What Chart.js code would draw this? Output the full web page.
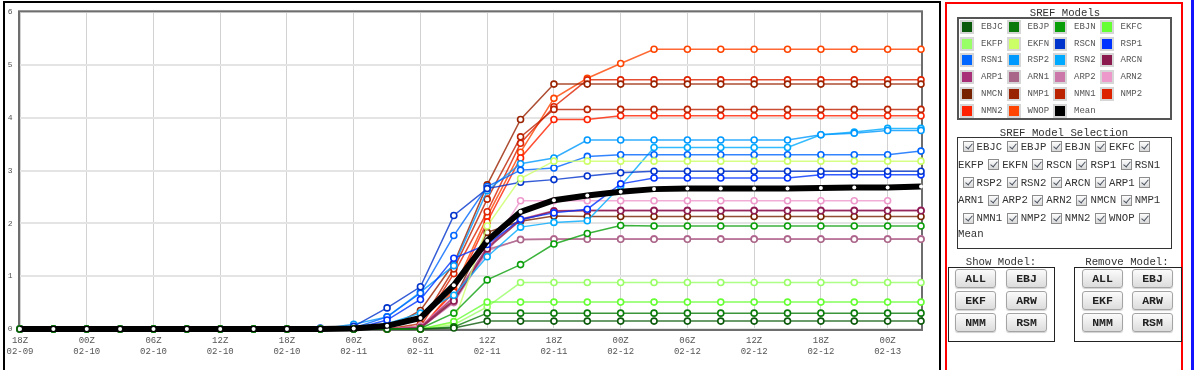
<!DOCTYPE html>
<html>
<head>
<meta charset="utf-8">
<script src="https://cdn.jsdelivr.net/npm/chart.js@4.4.1/dist/chart.umd.min.js"></script>
<style>
html, body { margin: 0; padding: 0; background: #fff; width: 1200px; height: 370px; overflow: hidden; }
body { position: relative; font-family: "Liberation Mono", monospace; }
#chartWrap { position: absolute; left: 0; top: 0; width: 940px; height: 370px; }
#chartFrame { position: absolute; left: 3px; top: 1px; width: 934px; height: 400px; border: 2px solid #000; }
#side { position: absolute; left: 945px; top: 2px; width: 234px; height: 400px; border: 2px solid #f00; }
#blueBar { position: absolute; left: 1191px; top: 0; width: 3px; height: 370px; background: #1414ff; }
.ttl { position: absolute; font-size: 10.7px; color: #333; line-height: 12px; text-align: center; white-space: nowrap; }
.box { position: absolute; box-sizing: border-box; }
.legItem { position: absolute; height: 14px; display: flex; align-items: center; white-space: nowrap; }
.sw { display: inline-block; width: 10px; height: 10px; border: 2px solid #d6d6d6; }
.swl { font-size: 9px; color: #555; margin-left: 7px; }
.selRow { position: absolute; height: 14px; display: flex; align-items: center; white-space: nowrap; }
.cb { display: inline-block; position: relative; box-sizing: border-box; width: 11px; height: 11px; border: 1px solid #8c8c8c;
      background: linear-gradient(#fdfdfd, #d9d9d9); margin-right: 3px; }
.cb::after { content: ""; position: absolute; left: 3px; top: 0px; width: 3px; height: 6px;
      border: solid #4a5260; border-width: 0 1.5px 1.5px 0; transform: rotate(40deg); }
.cbt { font-size: 10.7px; color: #333; margin-right: 4.5px; }
.btn { position: absolute; width: 41px; height: 19px; box-sizing: border-box; border: 1px solid #a4a4a4; border-radius: 3px;
       background: linear-gradient(#fbfbfb, #dcdcdc); font-weight: bold; font-size: 11.5px; color: #222;
       text-align: center; line-height: 17px; box-shadow: 0 1px 1px rgba(0,0,0,0.18); }
</style>
</head>
<body>
<div id="chartWrap"><canvas id="sref" width="940" height="370"></canvas></div>
<div id="chartFrame"></div>
<div id="side"></div>
<div id="blueBar"></div>

<div class="ttl" style="left:985px; top:6.5px; width:160px;">SREF Models</div>
<div class="box" style="left:957px; top:16.5px; width:215px; height:103px; border:2px solid #555;"></div>

<div class="ttl" style="left:984px; top:126.5px; width:160px;">SREF Model Selection</div>
<div class="box" style="left:957px; top:137px; width:215px; height:112px; border:1.5px solid #333;"></div>

<div class="ttl" style="left:951px; top:256px; width:100px;">Show Model:</div>
<div class="box" style="left:948px; top:266.5px; width:106.5px; height:75.5px; border:1.5px solid #222;"></div>
<div class="ttl" style="left:1077px; top:256px; width:100px;">Remove Model:</div>
<div class="box" style="left:1074px; top:266.5px; width:107.5px; height:75.5px; border:1.5px solid #222;"></div>

<script>
// forecast times, every 3 h
var times = [
  "18Z 02-09", "21Z 02-09", "00Z 02-10", "03Z 02-10", "06Z 02-10", "09Z 02-10", "12Z 02-10",
  "15Z 02-10", "18Z 02-10", "21Z 02-10", "00Z 02-11", "03Z 02-11", "06Z 02-11", "09Z 02-11",
  "12Z 02-11", "15Z 02-11", "18Z 02-11", "21Z 02-11", "00Z 02-12", "03Z 02-12", "06Z 02-12",
  "09Z 02-12", "12Z 02-12", "15Z 02-12", "18Z 02-12", "21Z 02-12", "00Z 02-13", "03Z 02-13"
];
var yTicks = [0, 1, 2, 3, 4, 5, 6];

var modelNames = ["EBJC", "EBJP", "EBJN", "EKFC", "EKFP", "EKFN", "RSCN", "RSP1", "RSN1", "RSP2", "RSN2",
  "ARCN", "ARP1", "ARN1", "ARP2", "ARN2", "NMCN", "NMP1", "NMN1", "NMP2", "NMN2", "WNOP"];
var modelColors = ["#0b5a0b", "#0a7a0a", "#0a9f0a", "#66ff33", "#99ff66", "#ccff66", "#0033cc", "#0033ff",
  "#0066ff", "#0099ff", "#00aaff", "#8b1a4e", "#a83078", "#aa6688", "#cc77aa", "#ee99cc",
  "#772200", "#992200", "#bb2200", "#dd2200", "#ff2200", "#ff4400"];

var ebjc = [0,0,0,0,0,0,0,0,0,0, 0,0,0,0.02,0.15,0.15,0.15,0.15,0.15,0.15,0.15,0.15,0.15,0.15,0.15,0.15,0.15,0.15];
var ebjp = [0,0,0,0,0,0,0,0,0,0, 0,0,0,0.04,0.30,0.30,0.30,0.30,0.30,0.30,0.30,0.30,0.30,0.30,0.30,0.30,0.30,0.30];
var ebjn = [0,0,0,0,0,0,0,0,0,0, 0,0,0.01,0.30,0.93,1.22,1.61,1.81,1.96,1.95,1.95,1.95,1.95,1.95,1.95,1.95,1.95,1.95];
var ekfc = [0,0,0,0,0,0,0,0,0,0, 0,0,0,0.14,0.51,0.51,0.51,0.51,0.51,0.51,0.51,0.51,0.51,0.51,0.51,0.51,0.51,0.51];
var ekfp = [0,0,0,0,0,0,0,0,0,0, 0,0,0,0.08,0.42,0.88,0.88,0.88,0.88,0.88,0.88,0.88,0.88,0.88,0.88,0.88,0.88,0.88];
var ekfn = [0,0,0,0,0,0,0,0,0,0, 0,0,0,0.12,1.95,2.85,3.18,3.18,3.18,3.18,3.18,3.18,3.18,3.18,3.18,3.18,3.18,3.18];
var rscn = [0,0,0,0,0,0,0,0,0,0.02, 0.05,0.40,0.80,2.15,2.66,2.78,2.83,2.90,2.96,2.99,2.99,2.99,2.99,2.99,2.99,2.99,2.99,2.99];
var rsp1 = [0,0,0,0,0,0,0,0,0,0, 0,0.17,0.56,1.34,1.60,2.08,2.20,2.27,2.75,2.86,2.86,2.86,2.86,2.86,2.92,2.92,2.92,2.92];
var rsn1 = [0,0,0,0,0,0,0,0,0,0, 0.02,0.23,0.68,1.77,2.70,3.01,3.05,3.27,3.30,3.30,3.30,3.30,3.30,3.30,3.30,3.30,3.30,3.37];
var rsp2 = [0,0,0,0,0,0,0,0,0,0, 0.09,0.23,0.70,1.20,2.62,3.13,3.24,3.58,3.58,3.58,3.58,3.58,3.58,3.58,3.68,3.71,3.76,3.76];
var rsn2 = [0,0,0,0,0,0,0,0,0,0, 0,0.10,0.30,0.64,1.37,1.93,2.02,2.05,2.71,3.44,3.44,3.44,3.44,3.44,3.68,3.73,3.80,3.80];
var arcn = [0,0,0,0,0,0,0,0,0,0, 0,0,0.02,0.53,1.52,2.06,2.23,2.24,2.24,2.24,2.24,2.24,2.24,2.24,2.24,2.24,2.24,2.24];
var arp1 = [0,0,0,0,0,0,0,0,0,0, 0,0,0.03,0.60,1.55,2.08,2.24,2.25,2.25,2.25,2.25,2.25,2.25,2.25,2.25,2.25,2.25,2.25];
var arn1 = [0,0,0,0,0,0,0,0,0,0, 0,0,0.01,0.53,1.51,1.69,1.70,1.70,1.70,1.70,1.70,1.70,1.70,1.70,1.70,1.70,1.70,1.70];
var arp2 = [0,0,0,0,0,0,0,0,0,0, 0,0,0.02,0.50,1.48,1.70,1.71,1.71,1.71,1.71,1.71,1.71,1.71,1.71,1.71,1.71,1.71,1.71];
var arn2 = [0,0,0,0,0,0,0,0,0,0, 0,0,0.05,0.62,1.43,2.43,2.43,2.43,2.43,2.43,2.43,2.43,2.43,2.43,2.43,2.43,2.43,null];
var nmcn = [0,0,0,0,0,0,0,0,0,0, 0,0,0.05,0.55,1.83,2.04,2.14,2.13,2.13,2.13,2.13,2.13,2.13,2.13,2.13,2.13,2.13,2.13];
var nmp1 = [0,0,0,0,0,0,0,0,0,0, 0,0,0.35,1.24,2.73,3.97,4.64,4.64,4.64,4.64,4.64,4.64,4.64,4.64,4.64,4.64,4.64,4.64];
var nmn1 = [0,0,0,0,0,0,0,0,0,0, 0,0,0.10,1.14,2.46,3.64,4.16,4.16,4.16,4.16,4.16,4.16,4.16,4.16,4.16,4.16,4.16,4.16];
var nmp2 = [0,0,0,0,0,0,0,0,0,0, 0,0,0.04,1.05,2.22,3.52,4.21,4.72,4.72,4.72,4.72,4.72,4.72,4.72,4.72,4.72,4.72,4.72];
var nmn2 = [0,0,0,0,0,0,0,0,0,0, 0,0,0.02,0.70,2.03,3.24,3.97,3.97,4.04,4.04,4.04,4.04,4.04,4.04,4.04,4.04,4.04,4.04];
var wnop = [0,0,0,0,0,0,0,0,0,0, 0,0,0,0.75,2.13,3.35,4.37,4.75,5.03,5.30,5.30,5.30,5.30,5.30,5.30,5.30,5.30,5.30];
var mean = [0,0,0,0,0,0,0,0,0,0, 0.01,0.06,0.21,0.83,1.67,2.22,2.44,2.53,2.60,2.65,2.66,2.66,2.66,2.66,2.67,2.68,2.68,2.70];

var modelValues = [ebjc, ebjp, ebjn, ekfc, ekfp, ekfn, rscn, rsp1, rsn1, rsp2, rsn2,
  arcn, arp1, arn1, arp2, arn2, nmcn, nmp1, nmn1, nmp2, nmn2, wnop];

var showButtons = ["ALL", "EBJ", "EKF", "ARW", "NMM", "RSM"];

function withAlpha(hex, a) {
  var n = parseInt(hex.slice(1), 16);
  return "rgba(" + (n >> 16) + "," + ((n >> 8) & 255) + "," + (n & 255) + "," + a + ")";
}

// --- side panel ---
var allNames = modelNames.concat(["Mean"]);
var allColors = modelColors.concat(["#000000"]);
allNames.forEach(function(name, i) {
  var item = document.createElement("div");
  item.className = "legItem";
  item.style.left = (960 + (i % 4) * 46.5) + "px";
  item.style.top = (20 + Math.floor(i / 4) * 16.7) + "px";
  item.innerHTML = '<span class="sw" style="background:' + allColors[i] + '"></span><span class="swl">' + name + '</span>';
  document.body.appendChild(item);
});

var tokens = [];
allNames.forEach(function(name) {
  tokens.push(null);
  tokens.push(name);
});
for (var r = 0; r * 9 < tokens.length; r++) {
  var rowTokens = tokens.slice(r * 9, r * 9 + 9);
  var row = document.createElement("div");
  row.className = "selRow";
  row.style.left = (rowTokens[0] === null ? 962.5 : 958) + "px";
  row.style.top = (r < 5 ? 139.7 + r * 17.9 : 226.5) + "px";
  rowTokens.forEach(function(t) {
    var s = document.createElement("span");
    if (t === null) {
      s.className = "cb";
    } else {
      s.className = "cbt";
      s.textContent = t;
    }
    row.appendChild(s);
  });
  document.body.appendChild(row);
}

[[955, 1006], [1082, 1132]].forEach(function(cols) {
  showButtons.forEach(function(label, i) {
    var b = document.createElement("div");
    b.className = "btn";
    b.style.left = cols[i % 2] + "px";
    b.style.top = (269 + Math.floor(i / 2) * 22.2) + "px";
    b.textContent = label;
    document.body.appendChild(b);
  });
});

// --- chart ---
var datasets = [{
  label: "Mean",
  data: mean,
  borderColor: "#000",
  borderWidth: 6,
  pointRadius: 2,
  pointBorderWidth: 0,
  pointBackgroundColor: "#fff",
  clip: false
}];
for (var i = 0; i < modelNames.length; i++) {
  datasets.push({
    label: modelNames[i],
    data: modelValues[i],
    borderColor: withAlpha(modelColors[i], 0.8),
    borderWidth: 1.5,
    pointRadius: 3,
    pointBorderWidth: 1.6,
    pointBorderColor: modelColors[i],
    pointBackgroundColor: "#fff",
    clip: false
  });
}

var plotFrame = {
  id: "plotFrame",
  beforeDatasetsDraw: function(chart) {
    var a = chart.chartArea;
    var ctx = chart.ctx;
    ctx.save();
    ctx.strokeStyle = "#6e6e6e";
    ctx.lineWidth = 2;
    ctx.strokeRect(a.left - 1, a.top - 1, a.right - a.left + 2, a.bottom - a.top + 2);
    ctx.restore();
  }
};

new Chart(document.getElementById("sref"), {
  type: "line",
  data: { labels: times, datasets: datasets },
  options: {
    responsive: false,
    animation: false,
    devicePixelRatio: 1,
    layout: { padding: { left: 6, right: 19, top: 10, bottom: 11 } },
    elements: { line: { tension: 0 } },
    plugins: { legend: { display: false }, tooltip: { enabled: false } },
    scales: {
      x: {
        type: "category",
        offset: false,
        afterFit: function(s) { s.height = 30; },
        border: { display: false },
        grid: {
          drawTicks: false,
          lineWidth: 1,
          color: function(c) { return c.index % 2 === 0 ? "#d2d2d2" : "rgba(0,0,0,0)"; }
        },
        ticks: {
          autoSkip: false,
          maxRotation: 0,
          padding: 6,
          color: "#555",
          font: { family: "Liberation Mono", size: 9, lineHeight: 1.2 },
          callback: function(v, i) { return i % 2 === 0 ? times[i].split(" ") : ""; }
        }
      },
      y: {
        min: yTicks[0],
        max: yTicks[yTicks.length - 1],
        afterFit: function(s) { s.width = 14; },
        afterBuildTicks: function(s) { s.ticks = yTicks.map(function(v) { return { value: v }; }); },
        border: { display: false },
        grid: { drawTicks: false, lineWidth: 2, color: "#e4e4e4" },
        ticks: { padding: 7.5, color: "#555", font: { family: "Liberation Mono", size: 8 } }
      }
    }
  },
  plugins: [plotFrame]
});
</script>
</body>
</html>
